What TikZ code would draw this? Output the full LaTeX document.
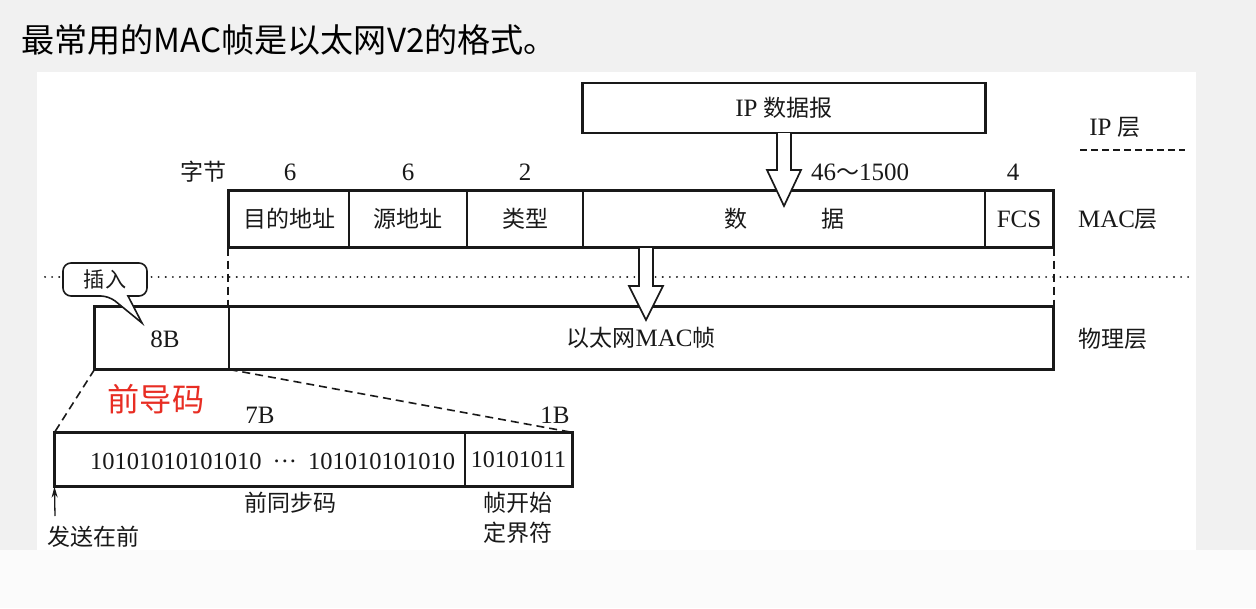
\documentclass[tikz,border=0pt]{standalone}
\usepackage{fontspec}
\setmainfont{Liberation Serif}
\newfontfamily\cjk{Noto Sans CJK SC}[Scale=0.92]
\usetikzlibrary{arrows.meta}
\definecolor{bggray}{RGB}{241,241,241}
\definecolor{bglow}{RGB}{251,251,251}
\definecolor{ink}{RGB}{25,25,25}
\definecolor{redlbl}{RGB}{232,45,35}
\begin{document}
\begin{tikzpicture}[x=1pt,y=-1pt,
  txt/.style={inner sep=0pt, text=ink, font=\fontsize{25}{28}\selectfont},
  fld/.style={draw=ink, line width=1.1pt, inner sep=0pt, text=ink, font=\fontsize{25}{28}\selectfont},
  frame/.style={draw=ink, line width=2.6pt},
  hollow/.style={draw=ink, fill=white, line width=1.7pt, line join=miter},
  vdash/.style={draw=ink, line width=2pt, dash pattern=on 8pt off 5pt},
  pdash/.style={draw=ink, line width=1.6pt, dash pattern=on 8pt off 5pt},
  dotline/.style={draw=ink, line width=2pt, line cap=round, dash pattern=on 0.1pt off 7pt}]
\useasboundingbox (0,0) rectangle (1256,608);
\fill[bggray] (0,0) rectangle (1256,608);
\fill[bglow] (0,550) rectangle (1256,608);
\fill[white] (37,72) rectangle (1196,550);

% title
\node[anchor=west, inner sep=0pt, font=\cjk\fontsize{36}{40}\selectfont, text=black] (title) at (21,40) {最常用的MAC帧是以太网V2的格式。};

% dotted layer line
\coordinate (dotL) at (45,277);
\coordinate (dotR) at (1195,277);
\draw[dotline] (dotL) -- (dotR);

% IP layer
\node[fld, minimum width=402pt, minimum height=49pt] (ip) at (784,108) {IP {\cjk 数据报}};
\draw[frame] (ip.north west) rectangle (ip.south east);
\node[txt] (iplayer) at (1115,127) {IP {\cjk 层}};
\coordinate (ipdL) at (1080,150);
\coordinate (ipdR) at (1185,150);
\draw[draw=ink, line width=1.5pt, dash pattern=on 7pt off 4pt] (ipdL) -- (ipdR);

% byte counts
\node[txt, font=\cjk\fontsize{25}{28}\selectfont] (bytes) at (203,172) {字节};
\node[txt] (n1) at (290,172) {6};
\node[txt] (n2) at (408,172) {6};
\node[txt] (n3) at (525,172) {2};
\node[txt] (n4) at (860,172) {46{\cjk ～}1500};
\node[txt] (n5) at (1013,172) {4};

% MAC frame
\node[fld, minimum width=120pt, minimum height=56pt] (dst) at (289,219) {\cjk 目的地址};
\node[fld, minimum width=118pt, minimum height=56pt] (src) at (408,219) {\cjk 源地址};
\node[fld, minimum width=116pt, minimum height=56pt] (typ) at (525,219) {\cjk 类型};
\node[fld, minimum width=402pt, minimum height=56pt] (dat) at (784,219) {\cjk 数\hspace{74pt}据};
\node[fld, minimum width=68pt, minimum height=56pt] (fcs) at (1019,219) {FCS};
\draw[frame] (dst.north west) rectangle (fcs.south east);
\node[txt] (maclayer) at (1118,219) {MAC{\cjk 层}};

% physical frame
\node[fld, minimum width=134pt, minimum height=62pt] (pre) at (162,338) {};
\node[txt] (eightB) at (165,339) {8B};
\node[fld, minimum width=824pt, minimum height=62pt] (mac) at (641,338) {{\cjk 以太网}MAC{\cjk 帧}};
\draw[frame] (pre.north west) rectangle (mac.south east);
\node[txt, font=\cjk\fontsize{25}{28}\selectfont] (phylayer) at (1113,339) {物理层};

% dashed projections MAC -> physical
\draw[vdash] (dst.south west) -- (mac.north west);
\draw[vdash] (fcs.south east) -- (mac.north east);

% hollow arrows
\draw[hollow] (777,133) -- (777,170) -- (767,170) -- (784,206) -- (801,170) -- (791,170) -- (791,133);
\draw[hollow] (639,248) -- (639,286) -- (629,286) -- (646,320) -- (663,286) -- (653,286) -- (653,248);

% callout
\draw[draw=ink, fill=white, line width=1.6pt] (128,296) [rounded corners=8pt] -- (147,296) -- (147,263) -- (63,263) -- (63,296) -- (109,296) [sharp corners] -- (142,323) -- cycle;
\node[txt, font=\cjk\fontsize{23}{26}\selectfont] (insert) at (105,279) {插入};

% preamble detail
\node[inner sep=0pt, text=redlbl, font=\cjk\fontsize{35}{38}\selectfont] (preamble) at (156,399) {前导码};
\node[txt] (sevenB) at (260,415) {7B};
\node[txt] (oneB) at (555,415) {1B};
\node[fld, minimum width=410pt, minimum height=53pt] (sync) at (260,459.5) {};
\node[fld, minimum width=107pt, minimum height=53pt, font=\fontsize{24}{27}\selectfont] (sfd) at (518.5,459.5) {10101011};
\draw[frame] (sync.north west) rectangle (sfd.south east);
\node[txt, anchor=west, font=\fontsize{24.5}{27}\selectfont] (bits) at (90,461) {10101010101010\hspace{11pt}···\hspace{11pt}101010101010};
\draw[pdash] (pre.south west) -- (sync.north west);
\draw[pdash] (pre.south east) -- (sfd.north east);

\node[txt, font=\cjk\fontsize{25}{28}\selectfont] (syncl) at (290,503) {前同步码};
\node[txt, font=\cjk\fontsize{25}{28}\selectfont, align=center] (sfdl) at (518,518) {帧开始\\[2pt]定界符};
\coordinate (sendtail) at (55,516);
\draw[draw=ink, line width=1.3pt, -{Stealth[length=11pt,width=6pt]}] (sendtail) -- (sync.south west);
\node[txt, font=\cjk\fontsize{25}{28}\selectfont] (sendfirst) at (93,537) {发送在前};
\end{tikzpicture}
\end{document}
